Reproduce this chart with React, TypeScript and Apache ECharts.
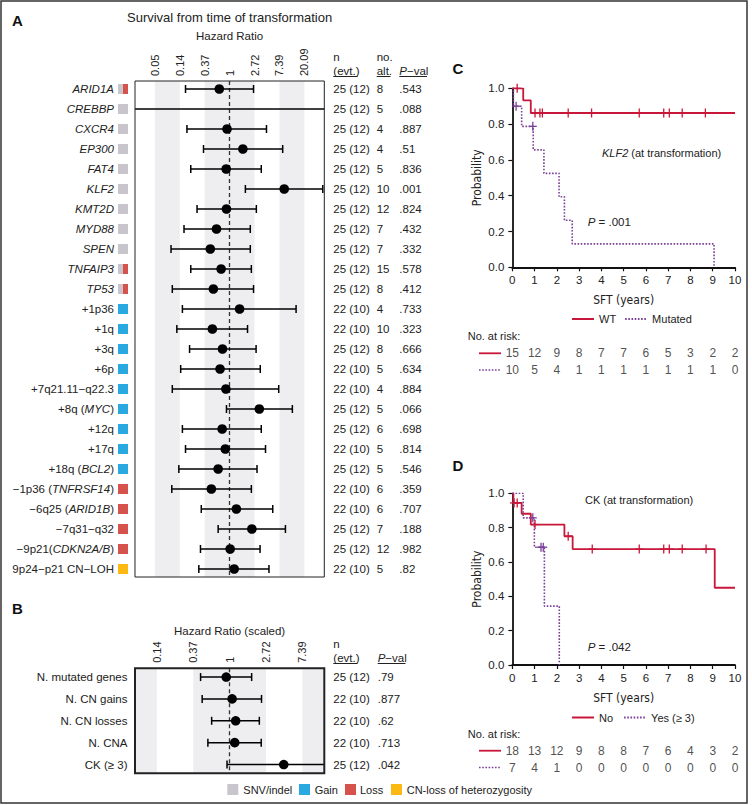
import React, { useEffect, useRef } from 'react';
import * as echarts from 'echarts';

const FONT = "'Liberation Sans', Arial, Helvetica, sans-serif";
const NARROW = "'Liberation Sans Narrow', 'DejaVu Sans Condensed', 'Liberation Sans', sans-serif";

const C_SNV = '#c8c6cc';
const C_GAIN = '#29a9e0';
const C_LOSS = '#d5534c';
const C_LOH = '#fdb913';
const KM_RED = '#c8173a';
const KM_PURPLE = '#7b3f98';
const BAND = '#eeeef0';

// ---------- Panel A data ----------
const altLabels = ['_ARID1A_', '_CREBBP_', '_CXCR4_', '_EP300_', '_FAT4_', '_KLF2_', '_KMT2D_', '_MYD88_', '_SPEN_', '_TNFAIP3_', '_TP53_',
  '+1p36', '+1q', '+3q', '+6p', '+7q21.11−q22.3', '+8q (_MYC_)', '+12q', '+17q', '+18q (_BCL2_)',
  '−1p36 (_TNFRSF14_)', '−6q25 (_ARID1B_)', '−7q31−q32', '−9p21(_CDKN2A/B_)', '9p24−p21 CN−LOH'];
const altTypes = ['snvloss', 'snv', 'snv', 'snv', 'snv', 'snv', 'snv', 'snv', 'snv', 'snvloss', 'snvloss',
  'gain', 'gain', 'gain', 'gain', 'gain', 'gain', 'gain', 'gain', 'gain',
  'loss', 'loss', 'loss', 'loss', 'loh'];
const altHR: (number | null)[] = [0.66, null, 0.90, 1.70, 0.87, 8.94, 0.88, 0.59, 0.46, 0.71, 0.52, 1.49, 0.50, 0.75, 0.68, 0.86, 3.29, 0.74, 0.84, 0.63, 0.48, 1.31, 2.44, 1.02, 1.20];
const altLo = [0.17, 0.001, 0.18, 0.35, 0.21, 1.88, 0.27, 0.16, 0.095, 0.21, 0.10, 0.15, 0.12, 0.20, 0.14, 0.10, 0.88, 0.15, 0.17, 0.13, 0.098, 0.32, 0.63, 0.31, 0.29];
const altHi = [2.61, 1000, 4.39, 8.41, 3.56, 42.1, 2.92, 2.29, 2.29, 2.39, 2.61, 14.4, 2.05, 2.89, 3.42, 7.17, 12.4, 3.56, 4.22, 3.00, 2.39, 5.64, 9.39, 3.39, 4.85];
const altN = [25, 25, 25, 25, 25, 25, 25, 25, 25, 25, 25, 22, 22, 25, 22, 22, 25, 25, 22, 25, 22, 22, 25, 25, 22];
const altEvt = [12, 12, 12, 12, 12, 12, 12, 12, 12, 12, 12, 10, 10, 12, 10, 10, 12, 12, 10, 12, 10, 10, 12, 12, 10];
const altCount = [8, 5, 4, 4, 5, 10, 12, 7, 7, 15, 8, 4, 10, 8, 5, 4, 5, 6, 5, 5, 6, 6, 7, 12, 5];
const altP = ['.543', '.088', '.887', '.51', '.836', '.001', '.824', '.432', '.332', '.578', '.412', '.733', '.323', '.666', '.634', '.884', '.066', '.698', '.814', '.546', '.359', '.707', '.188', '.982', '.82'];

// ---------- Panel B data ----------
const scLabels = ['N. mutated genes', 'N. CN gains', 'N. CN losses', 'N. CNA', 'CK (≥ 3)'];
const scHR = [0.91, 1.07, 1.18, 1.15, 4.42];
const scLo = [0.45, 0.47, 0.61, 0.55, 0.93];
const scHi = [1.83, 2.40, 2.26, 2.38, 30];
const scN = [25, 22, 22, 22, 25];
const scEvt = [12, 10, 10, 10, 12];
const scP = ['.79', '.877', '.62', '.713', '.042'];

// log-HR tick positions and their labels
const hrTicksA = [-3, -2, -1, 0, 1, 2, 3];
const hrTickLabelsA = ['0.05', '0.14', '0.37', '1', '2.72', '7.39', '20.09'];
const hrTicksB = [-2, -1, 0, 1, 2];
const hrTickLabelsB = ['0.14', '0.37', '1', '2.72', '7.39'];
const bandsLn = [[-3, -2], [-1, 1], [2, 3]];

// ---------- Panel C data (KLF2) ----------
const kmC_WT = [[0, 1], [0.49, 0.933], [0.83, 0.862], [10, 0.862]];
const kmC_Mut = [[0, 1], [0.05, 0.9], [0.42, 0.7875], [0.94, 0.656], [1.42, 0.525], [2.10, 0.394], [2.34, 0.2625], [2.69, 0.131], [9.06, 0]];
const censC_WT = [[0.22, 1], [1.02, 0.862], [1.24, 0.862], [1.35, 0.862], [2.51, 0.862], [3.56, 0.862], [5.70, 0.862], [6.80, 0.862], [7.05, 0.862], [7.63, 0.862], [8.67, 0.862]];
const censC_Mut = [[0.17, 0.9], [0.92, 0.7875]];
const riskTimes = [0, 1, 2, 3, 4, 5, 6, 7, 8, 9, 10];
const riskC_WT = [15, 12, 9, 8, 7, 7, 6, 5, 3, 2, 2];
const riskC_Mut = [10, 5, 4, 1, 1, 1, 1, 1, 1, 1, 0];

// ---------- Panel D data (CK) ----------
const kmD_No = [[0, 1], [0.05, 0.944], [0.42, 0.881], [0.83, 0.818], [2.34, 0.75], [2.71, 0.675], [9.09, 0.45], [10, 0.45]];
const kmD_Yes = [[0, 1], [0.49, 0.857], [0.99, 0.686], [1.44, 0.343], [2.11, 0]];
const censD_No = [[0.08, 0.944], [0.22, 0.944], [1.02, 0.818], [2.51, 0.75], [3.59, 0.675], [5.70, 0.675], [6.80, 0.675], [7.05, 0.675], [7.63, 0.675], [8.70, 0.675]];
const censD_Yes = [[0.92, 0.857], [1.29, 0.686], [1.39, 0.686]];
const riskD_No = [18, 13, 12, 9, 8, 8, 7, 6, 4, 3, 2];
const riskD_Yes = [7, 4, 1, 0, 0, 0, 0, 0, 0, 0, 0];

const squareTokens: Record<string, string> = {
  snvloss: '{gh| }{rh| }', snv: '{gy| }', gain: '{bl| }', loss: '{rd| }', loh: '{yl| }',
};

function markup(s: string) {
  return s.split('_').map((seg, i) => (seg ? `{${i % 2 ? 'it' : 'tx'}|${seg}}` : '')).join('');
}

const txtRich = {
  tx: { fontSize: 11.5, color: '#222', fontFamily: FONT },
  it: { fontSize: 11.5, color: '#222', fontFamily: FONT, fontStyle: 'italic' },
};
const sqRich = {
  sp: { width: 4, height: 10 },
  gy: { width: 10, height: 10, backgroundColor: C_SNV },
  gh: { width: 5, height: 10, backgroundColor: C_SNV },
  rh: { width: 5, height: 10, backgroundColor: C_LOSS },
  bl: { width: 10, height: 10, backgroundColor: C_GAIN },
  rd: { width: 10, height: 10, backgroundColor: C_LOSS },
  yl: { width: 10, height: 10, backgroundColor: C_LOH },
};

const forestRender = (params: any, api: any) => {
  const cs = params.coordSys;
  const row = api.value(3);
  const a = api.coord([api.value(0), row]);
  const b = api.coord([api.value(1), row]);
  const left = cs.x, right = cs.x + cs.width;
  const x1 = Math.max(a[0], left), x2 = Math.min(b[0], right);
  const y = a[1];
  const st = { stroke: '#000', lineWidth: 1.5 };
  const ch: any[] = [{ type: 'line', shape: { x1, y1: y, x2, y2: y }, style: st }];
  if (a[0] >= left) ch.push({ type: 'line', shape: { x1: a[0], y1: y - 4, x2: a[0], y2: y + 4 }, style: st });
  if (b[0] <= right) ch.push({ type: 'line', shape: { x1: b[0], y1: y - 4, x2: b[0], y2: y + 4 }, style: st });
  if (api.value(4) === 1) {
    const c = api.coord([api.value(2), row]);
    ch.push({ type: 'circle', shape: { cx: c[0], cy: y, r: 4.8 }, style: { fill: '#000' } });
  }
  return { type: 'group', children: ch };
};

const censorRender = (params: any, api: any) => {
  const p = api.coord([api.value(0), api.value(1)]);
  const color = api.visual('color');
  const st = { stroke: color, lineWidth: 1.3 };
  return {
    type: 'group', children: [
      { type: 'line', shape: { x1: p[0], y1: p[1] - 4.5, x2: p[0], y2: p[1] + 4.5 }, style: st },
      { type: 'line', shape: { x1: p[0] - 4, y1: p[1], x2: p[0] + 4, y2: p[1] }, style: st },
    ],
  };
};

const markAreaFor = () => ({
  silent: true, z: 1,
  itemStyle: { color: BAND },
  data: bandsLn.map(([a, b]) => [{ xAxis: a }, { xAxis: b }]),
});
const markLineFor = () => ({
  silent: true, z: 1, symbol: ['none', 'none'],
  label: { show: false },
  lineStyle: { color: '#333', type: [4, 3], width: 1.3 },
  data: [{ xAxis: 0 }],
});

function txt(x: number, y: number, text: string, extra: any = {}) {
  return {
    type: 'text', x, y, z: 20,
    style: {
      text, fontSize: 11.5, fontFamily: FONT, fill: '#222', align: 'left', verticalAlign: 'middle', ...extra,
    },
  };
}
function hline(x1: number, x2: number, y: number, stroke = '#222', lineWidth = 1, lineDash?: number[]) {
  return { type: 'line', z: 20, shape: { x1, y1: y, x2, y2: y }, style: { stroke, lineWidth, lineDash } };
}

function buildOption(): any {
  const idxA = altLabels.map((_, i) => i);
  const idxB = scLabels.map((_, i) => i);
  const leftA = altLabels.map((s, i) => markup(s) + '{sp| }' + squareTokens[altTypes[i]]);
  const rightA = altLabels.map((_, i) => `{n|${altN[i]} (${altEvt[i]})}{a|${altCount[i]}}{p|${altP[i]}}`);
  const leftB = scLabels.map((s) => `{tx|${s}}`);
  const rightB = scLabels.map((_, i) => `{n|${scN[i]} (${scEvt[i]})}{p|${scP[i]}}`);

  const forestData = altLabels.map((_, i) => [
    Math.log(altLo[i]), Math.log(altHi[i]), altHR[i] == null ? 0 : Math.log(altHR[i] as number), i, altHR[i] == null ? 0 : 1,
  ]);
  const scaledData = scLabels.map((_, i) => [Math.log(scLo[i]), Math.log(scHi[i]), Math.log(scHR[i]), i, 1]);

  const hiddenAxis = { axisLine: { show: false }, axisTick: { show: false }, splitLine: { show: false } };

  const kmX = (grid: number) => ({
    gridIndex: grid, type: 'value', min: 0, max: 10, interval: 1,
    axisLine: { show: true, onZero: false, lineStyle: { color: '#111', width: 1.8 } },
    axisTick: { show: true, length: 4, lineStyle: { color: '#111', width: 1.2 } },
    axisLabel: { fontSize: 11.5, color: '#222', margin: 7, fontFamily: FONT },
    splitLine: { show: false },
    name: 'SFT (years)', nameLocation: 'middle', nameGap: 27,
    nameTextStyle: { fontFamily: NARROW, fontSize: 12, color: '#222' },
  });
  const kmY = (grid: number) => ({
    gridIndex: grid, type: 'value', min: 0, max: 1, interval: 0.2,
    axisLine: { show: true, lineStyle: { color: '#111', width: 1.8 } },
    axisTick: { show: true, length: 4, lineStyle: { color: '#111', width: 1.2 } },
    axisLabel: { fontSize: 11.5, color: '#222', margin: 8, fontFamily: FONT, formatter: (v: number) => v.toFixed(1) },
    splitLine: { show: false },
    name: 'Probability', nameLocation: 'middle', nameGap: 29, nameRotate: 90,
    nameTextStyle: { fontFamily: NARROW, fontSize: 12, color: '#222' },
  });
  const riskX = (grid: number) => ({ gridIndex: grid, type: 'value', min: 0, max: 10, show: false });
  const riskY = (grid: number) => ({ gridIndex: grid, type: 'value', min: -0.5, max: 1.5, inverse: true, show: false });

  const riskSeries = (xi: number, yi: number, row: number, vals: number[]) => ({
    type: 'scatter', xAxisIndex: xi, yAxisIndex: yi, symbolSize: 1, silent: true,
    itemStyle: { color: 'rgba(0,0,0,0)' },
    label: { show: true, position: 'inside', formatter: (p: any) => String(p.value[2]), fontSize: 12, color: '#222', fontFamily: FONT },
    data: riskTimes.map((t, i) => [t, row, vals[i]]),
  });
  const kmLine = (name: string, xi: number, yi: number, data: number[][], color: string, dotted: boolean) => ({
    name, type: 'line', step: 'end', xAxisIndex: xi, yAxisIndex: yi, symbol: 'none', data, z: 3,
    itemStyle: { color },
    lineStyle: { color, width: dotted ? 1.6 : 1.8, type: dotted ? [1.6, 1.6] : 'solid' },
  });
  const censor = (name: string, xi: number, yi: number, data: number[][], color: string) => ({
    name, type: 'custom', xAxisIndex: xi, yAxisIndex: yi, renderItem: censorRender, itemStyle: { color }, data, z: 4, silent: true,
  });

  const italicRich = (size: number) => ({ i: { fontStyle: 'italic', fontSize: size, fontFamily: FONT, fill: '#222' } });

  const graphic: any[] = [
    { type: 'rect', z: 20, shape: { x: 1, y: 1, width: 746, height: 802 }, style: { fill: 'none', stroke: '#333', lineWidth: 1.5 } },
    txt(12, 20, 'A', { fontSize: 15, fontWeight: 'bold', fill: '#111' }),
    txt(229.6, 17, 'Survival from time of transformation', { fontSize: 13, align: 'center' }),
    txt(229.6, 36, 'Hazard Ratio', { fontSize: 11.5, align: 'center' }),
    txt(333.3, 57, 'n'), txt(333.3, 70.5, '(evt.)'), hline(333.3, 357.5, 76.5),
    txt(376.7, 57, 'no.'), txt(376.7, 70.5, 'alt.'), hline(376.7, 390.5, 76.5),
    txt(399.3, 70.5, '{i|P}−val', { rich: italicRich(11.5) }), hline(399.3, 427, 76.5),
    txt(12, 608, 'B', { fontSize: 15, fontWeight: 'bold', fill: '#111' }),
    txt(229.6, 631, 'Hazard Ratio (scaled)', { fontSize: 11.5, align: 'center' }),
    txt(333.3, 643.5, 'n'), txt(333.3, 657.5, '(evt.)'), hline(333.3, 357.5, 663.5),
    txt(377.7, 657.5, '{i|P}−val', { rich: italicRich(11.5) }), hline(377.7, 405.5, 663.5),
    // bottom legend
    { type: 'rect', z: 20, shape: { x: 227.3, y: 784, width: 11, height: 11 }, style: { fill: C_SNV } },
    txt(243.3, 789.5, 'SNV/indel', { fontSize: 11 }),
    { type: 'rect', z: 20, shape: { x: 299, y: 784, width: 11, height: 11 }, style: { fill: C_GAIN } },
    txt(314.7, 789.5, 'Gain', { fontSize: 11 }),
    { type: 'rect', z: 20, shape: { x: 345, y: 784, width: 11, height: 11 }, style: { fill: C_LOSS } },
    txt(360, 789.5, 'Loss', { fontSize: 11 }),
    { type: 'rect', z: 20, shape: { x: 391, y: 784, width: 11, height: 11 }, style: { fill: C_LOH } },
    txt(406.7, 789.5, 'CN-loss of heterozygosity', { fontSize: 11 }),
    // panel C
    txt(452.5, 68.5, 'C', { fontSize: 15, fontWeight: 'bold', fill: '#111' }),
    txt(602, 153.3, '{i|KLF2} (at transformation)', { fontSize: 11, rich: italicRich(11) }),
    txt(587.7, 221.7, '{i|P} = .001', { fontSize: 11.5, rich: italicRich(11.5) }),
    txt(467.7, 336, 'No. at risk:', { fontSize: 11 }),
    hline(479, 501, 353.3, KM_RED, 1.8),
    hline(479, 501, 370, KM_PURPLE, 1.6, [1.6, 1.6]),
    // panel D
    txt(452.5, 465.7, 'D', { fontSize: 15, fontWeight: 'bold', fill: '#111' }),
    txt(585, 500, 'CK (at transformation)', { fontSize: 11 }),
    txt(587.7, 647.3, '{i|P} = .042', { fontSize: 11.5, rich: italicRich(11.5) }),
    txt(467.7, 734, 'No. at risk:', { fontSize: 11 }),
    hline(479, 501, 750.7, KM_RED, 1.8),
    hline(479, 501, 767.5, KM_PURPLE, 1.6, [1.6, 1.6]),
  ];

  const legendCommon = {
    itemWidth: 22, itemHeight: 12, selectedMode: false,
    itemStyle: { color: 'rgba(0,0,0,0)', borderColor: 'rgba(0,0,0,0)', borderWidth: 0, opacity: 0 },
    textStyle: { fontSize: 11, color: '#222', fontFamily: FONT },
  };

  return {
    animation: false,
    backgroundColor: '#fff',
    textStyle: { fontFamily: FONT },
    grid: [
      { left: 135, top: 81, width: 189.3, height: 496, show: true, z: 10, borderColor: '#222', borderWidth: 1, backgroundColor: 'transparent' },
      { left: 135, top: 668.3, width: 189.3, height: 105, show: true, z: 10, borderColor: '#222', borderWidth: 2, backgroundColor: 'transparent' },
      { left: 512.3, top: 88.3, width: 222.7, height: 179 },
      { left: 512.3, top: 493.3, width: 222.7, height: 171.7 },
      { left: 512.3, top: 345, width: 222.7, height: 33.4 },
      { left: 512.3, top: 742.3, width: 222.7, height: 33.6 },
    ],
    xAxis: [
      {
        gridIndex: 0, type: 'value', position: 'top', min: -3.8, max: 3.8, ...hiddenAxis,
        axisLabel: {
          customValues: hrTicksA, rotate: 90, margin: 5, fontSize: 11, color: '#222', fontFamily: FONT,
          formatter: (v: number) => hrTickLabelsA[hrTicksA.indexOf(Math.round(v))] ?? '',
        },
      },
      {
        gridIndex: 1, type: 'value', position: 'top', min: -2.6, max: 2.6, ...hiddenAxis,
        axisLabel: {
          customValues: hrTicksB, rotate: 90, margin: 5.5, fontSize: 11, color: '#222', fontFamily: FONT,
          formatter: (v: number) => hrTickLabelsB[hrTicksB.indexOf(Math.round(v))] ?? '',
        },
      },
      kmX(2), kmX(3), riskX(4), riskX(5),
    ],
    yAxis: [
      {
        gridIndex: 0, type: 'value', min: -0.4, max: 24.4, inverse: true, ...hiddenAxis,
        axisLabel: { customValues: idxA, margin: 7, fontSize: 11.5, color: '#222', formatter: (v: number) => leftA[Math.round(v)], rich: { ...txtRich, ...sqRich } },
      },
      {
        gridIndex: 0, type: 'value', position: 'right', min: -0.4, max: 24.4, inverse: true, ...hiddenAxis,
        axisLabel: {
          customValues: idxA, margin: 9, align: 'left', fontSize: 11.5, color: '#222', formatter: (v: number) => rightA[Math.round(v)],
          rich: { n: { width: 43.4, fontSize: 11.5, color: '#222' }, a: { width: 22.6, fontSize: 11.5, color: '#222' }, p: { fontSize: 11.5, color: '#222' } },
        },
      },
      {
        gridIndex: 1, type: 'value', min: -0.4, max: 4.4, inverse: true, ...hiddenAxis,
        axisLabel: { customValues: idxB, margin: 7.5, fontSize: 11.5, color: '#222', formatter: (v: number) => leftB[Math.round(v)], rich: txtRich },
      },
      {
        gridIndex: 1, type: 'value', position: 'right', min: -0.4, max: 4.4, inverse: true, ...hiddenAxis,
        axisLabel: {
          customValues: idxB, margin: 9, align: 'left', fontSize: 11.5, color: '#222', formatter: (v: number) => rightB[Math.round(v)],
          rich: { n: { width: 44.4, fontSize: 11.5, color: '#222' }, p: { fontSize: 11.5, color: '#222' } },
        },
      },
      kmY(2), kmY(3), riskY(4), riskY(5),
    ],
    legend: [
      { ...legendCommon, data: ['WT', 'Mutated'], left: 566, top: 308.5, itemGap: 8 },
      { ...legendCommon, data: ['No', 'Yes (≥ 3)'], left: 566, top: 707, itemGap: 10 },
    ],
    series: [
      {
        name: 'forestA', type: 'custom', xAxisIndex: 0, yAxisIndex: 0, renderItem: forestRender, data: forestData, z: 3,
        markArea: markAreaFor(), markLine: markLineFor(),
      },
      {
        name: 'forestB', type: 'custom', xAxisIndex: 1, yAxisIndex: 2, renderItem: forestRender, data: scaledData, z: 3,
        markArea: markAreaFor(), markLine: markLineFor(),
      },
      kmLine('WT', 2, 4, kmC_WT, KM_RED, false),
      kmLine('Mutated', 2, 4, kmC_Mut, KM_PURPLE, true),
      censor('censWT', 2, 4, censC_WT, KM_RED),
      censor('censMut', 2, 4, censC_Mut, KM_PURPLE),
      kmLine('No', 3, 5, kmD_No, KM_RED, false),
      kmLine('Yes (≥ 3)', 3, 5, kmD_Yes, KM_PURPLE, true),
      censor('censNo', 3, 5, censD_No, KM_RED),
      censor('censYes', 3, 5, censD_Yes, KM_PURPLE),
      riskSeries(4, 6, 0, riskC_WT),
      riskSeries(4, 6, 1, riskC_Mut),
      riskSeries(5, 7, 0, riskD_No),
      riskSeries(5, 7, 1, riskD_Yes),
    ],
    graphic,
  };
}

export default function App() {
  const ref = useRef<HTMLDivElement>(null);
  useEffect(() => {
    document.body.style.margin = '0';
    const chart = echarts.init(ref.current!, null, { renderer: 'svg' });
    chart.setOption(buildOption());
    return () => chart.dispose();
  }, []);
  return <div ref={ref} style={{ position: 'absolute', left: 0, top: 0, width: 752, height: 805, background: '#fff' }} />;
}
